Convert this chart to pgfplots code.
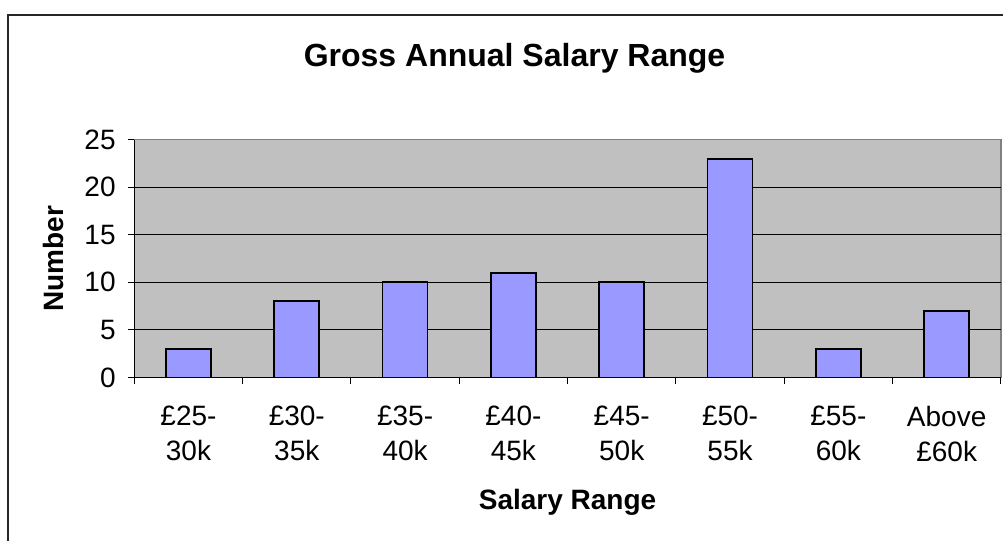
\documentclass[border=0pt]{standalone}
\usepackage{pgfplots}
\pgfplotsset{compat=1.18}
\usepackage{fontspec}
\setmainfont{Liberation Sans}
\definecolor{bgray}{HTML}{C0C0C0}
\definecolor{barblue}{HTML}{9999FF}
\definecolor{bordergray}{HTML}{808080}
\begin{document}
\begin{tikzpicture}[x=0.75pt,y=0.75pt]
\begin{axis}[
  at={(124,171)}, anchor=south west,
  scale only axis,
  width=649.9pt, height=178.3pt,
  xmin=-0.5, xmax=7.5,
  ymin=0, ymax=25,
  ytick={0,5,...,25},
  xtick={0,...,7},
  xticklabels={{£25-\\30k},{£30-\\35k},{£35-\\40k},{£40-\\45k},{£45-\\50k},{£50-\\55k},{£55-\\60k},{Above\\£60k}},
  minor xtick={-0.5,0.5,...,7.5},
  major x tick style={draw=none},
  tick align=outside,
  xtick pos=bottom, ytick pos=left,
  major tick length=4.5pt, minor tick length=5pt,
  tick style={black, line width=0.75pt},
  axis line style={draw=bordergray, line width=1pt},
  axis background/.style={fill=bgray},
  extra y ticks={5,10,15,20},
  extra y tick labels={},
  extra y tick style={ymajorgrids=true, major tick length=0pt, major grid style={black, line width=0.8pt}},
  /pgf/number format/assume math mode=true,
  ticklabel style={font=\fontsize{21}{26.25}\selectfont},
  xticklabel style={align=center, yshift=-13.5pt},
  yticklabel style={xshift=-6pt},
  title={Gross Annual Salary Range},
  title style={font=\fontsize{24}{28}\selectfont\bfseries, at={(rel axis cs:0.4388,1.276)}, anchor=base},
  xlabel={Salary Range},
  xlabel style={font=\fontsize{21}{26}\selectfont\bfseries, at={(rel axis cs:0.5,-0.5565)}, anchor=base},
  ylabel={Number},
  ylabel style={font=\fontsize{21}{26}\selectfont\bfseries, at={(rel axis cs:-0.0816,0.5)}, anchor=base, rotate=0},
  clip=false,
]
\addplot[ybar, bar width=33.75pt, fill=barblue, draw=black, line width=1.3pt]
  coordinates {(0,3) (1,8) (2,10) (3,11) (4,10) (5,23) (6,3) (7,7)};
\draw[black, line width=1pt] (rel axis cs:0,1) -- (rel axis cs:0,0) -- (rel axis cs:1,0);
\end{axis}
\draw[line width=1pt,black!85] (8,-5) -- (8,525) -- (1010,525);
\pgfresetboundingbox
\useasboundingbox (0,0) rectangle (1003,540);
\end{tikzpicture}
\end{document}
